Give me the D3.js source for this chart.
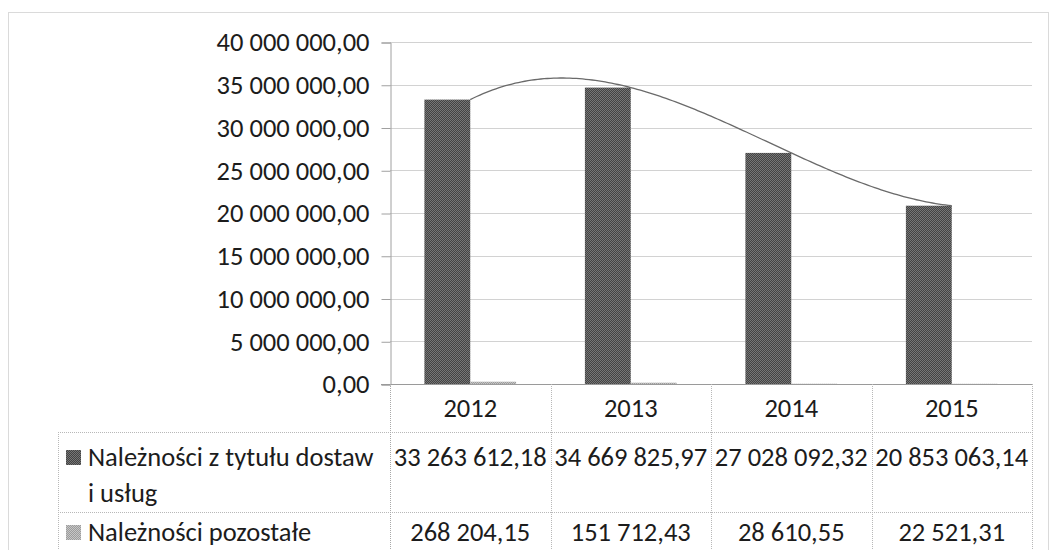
<!DOCTYPE html>
<html lang="pl">
<head>
<meta charset="utf-8">
<script src="https://cdn.jsdelivr.net/npm/d3@7"></script>
<style>
  html, body { margin: 0; padding: 0; background: #fff; }
  svg { display: block; font-family: Calibri, Carlito, Lato, "Open Sans", sans-serif; }
</style>
</head>
<body>
<svg id="chart" width="1052" height="550"></svg>
<script>
// Receivables by year (PLN)
const categories = ["2012", "2013", "2014", "2015"];
const tradeReceivables = [33263612.18, 34669825.97, 27028092.32, 20853063.14];
const otherReceivables = [268204.15, 151712.43, 28610.55, 22521.31];
const seriesNames = [["Należności z tytułu dostaw", "i usług"], ["Należności pozostałe"]];
const yTicks = [0, 5000000, 10000000, 15000000, 20000000, 25000000, 30000000, 35000000, 40000000];

const pl = d3.formatLocale({ decimal: ",", thousands: " ", grouping: [3], currency: ["", " zł"] });
const fmt = pl.format(",.2f");

const svg = d3.select("#chart");
const W = 1052, H = 550;
const plot = { left: 390, right: 1032, top: 42, bottom: 384 };
const table = { left: 58, headerBottom: 432, row1Bottom: 512 };
const fontSize = 26.5;
const textColor = "#1c1c1c";
const gridColor = "#d2d2d2";
const tableLine = "#b8b8b8";

// halftone-like fills for the two series
const defs = svg.append("defs");
function dither(id, a, b) {
  const p = defs.append("pattern").attr("id", id)
    .attr("width", 2).attr("height", 2).attr("patternUnits", "userSpaceOnUse");
  p.append("rect").attr("width", 2).attr("height", 2).attr("fill", a);
  p.append("rect").attr("width", 1).attr("height", 1).attr("fill", b);
  p.append("rect").attr("x", 1).attr("y", 1).attr("width", 1).attr("height", 1).attr("fill", b);
}
dither("fillTrade", "#434343", "#767676");
dither("fillOther", "#9c9c9c", "#c6c6c6");
const fills = ["url(#fillTrade)", "url(#fillOther)"];

// outer chart frame
svg.append("rect")
  .attr("x", 8.5).attr("y", 12.5).attr("width", 1040).attr("height", 600)
  .attr("fill", "none").attr("stroke", "#b4b4b4").attr("stroke-dasharray", "1,1");

const x = d3.scaleBand().domain(categories).range([plot.left, plot.right]).padding(0);
const y = d3.scaleLinear().domain([0, 40000000]).range([plot.bottom, plot.top]);
const bw = x.bandwidth();
const barW = bw / 3.5; // gap width 150%

// gridlines
svg.append("g").selectAll("line").data(yTicks.filter(d => d > 0)).join("line")
  .attr("x1", plot.left).attr("x2", plot.right)
  .attr("y1", d => Math.round(y(d)) + 0.5).attr("y2", d => Math.round(y(d)) + 0.5)
  .attr("stroke", gridColor).attr("stroke-width", 1);

// y axis
const yAxis = d3.axisLeft(y).tickValues(yTicks).tickSize(9).tickPadding(12).tickFormat(fmt);
const gy = svg.append("g").attr("transform", `translate(${plot.left + 0.5},0.5)`).call(yAxis);
gy.select(".domain").attr("stroke", "#a0a0a0");
gy.selectAll(".tick line").attr("stroke", "#a0a0a0");
gy.selectAll(".tick text")
  .attr("font-size", fontSize).attr("fill", textColor)
  .attr("font-family", "Calibri, Carlito, Lato, sans-serif");

// bars
const series = [tradeReceivables, otherReceivables];
series.forEach((vals, si) => {
  svg.append("g").selectAll("rect").data(vals).join("rect")
    .attr("x", (d, i) => x(categories[i]) + bw / 2 - barW + si * barW)
    .attr("y", d => y(d))
    .attr("width", barW)
    .attr("height", d => y(0) - y(d))
    .attr("fill", fills[si]);
});

// zero line
svg.append("line")
  .attr("x1", plot.left - 9).attr("x2", plot.right)
  .attr("y1", plot.bottom + 0.5).attr("y2", plot.bottom + 0.5)
  .attr("stroke", "#9a9a9a");

// polynomial (order 3) trendline of the trade receivables
function polyFit(xs, ys, order) {
  const n = order + 1;
  const A = Array.from({ length: n }, () => new Array(n + 1).fill(0));
  xs.forEach((xv, k) => {
    for (let r = 0; r < n; r++) {
      for (let c = 0; c < n; c++) A[r][c] += Math.pow(xv, r + c);
      A[r][n] += ys[k] * Math.pow(xv, r);
    }
  });
  for (let i = 0; i < n; i++) {
    let piv = i;
    for (let r = i + 1; r < n; r++) if (Math.abs(A[r][i]) > Math.abs(A[piv][i])) piv = r;
    [A[i], A[piv]] = [A[piv], A[i]];
    for (let r = 0; r < n; r++) {
      if (r === i) continue;
      const f = A[r][i] / A[i][i];
      for (let c = i; c <= n; c++) A[r][c] -= f * A[i][c];
    }
  }
  return A.map((row, i) => row[n] / row[i]);
}
const idx = categories.map((c, i) => i + 1);
const coef = polyFit(idx, tradeReceivables, 3);
const trend = t => coef.reduce((s, c, k) => s + c * Math.pow(t, k), 0);
const tSamples = d3.range(1, idx.length + 0.0001, 0.02);
const xCenter = t => x(categories[0]) + bw / 2 + (t - 1) * bw;
svg.append("path")
  .datum(tSamples)
  .attr("d", d3.line().x(t => xCenter(t)).y(t => y(trend(t))))
  .attr("fill", "none").attr("stroke", "#6a6a6a").attr("stroke-width", 1.3);

// data table
const tbl = svg.append("g").attr("stroke", tableLine).attr("stroke-dasharray", "1,1").attr("fill", "none");
[table.headerBottom, table.row1Bottom].forEach(yy => {
  tbl.append("line").attr("x1", table.left).attr("x2", plot.right)
    .attr("y1", yy + 0.5).attr("y2", yy + 0.5);
});
tbl.append("line").attr("x1", table.left + 0.5).attr("x2", table.left + 0.5)
  .attr("y1", table.headerBottom).attr("y2", H + 10);
const colEdges = categories.map(c => x(c)).concat([plot.right]);
colEdges.forEach((cx, i) => {
  tbl.append("line").attr("x1", Math.round(cx) + 0.5).attr("x2", Math.round(cx) + 0.5)
    .attr("y1", plot.bottom).attr("y2", H + 10)
    .attr("stroke", i === 0 ? "#a8a8a8" : tableLine)
    .attr("stroke-dasharray", i === 0 ? null : "1,1");
});

const txt = svg.append("g").attr("font-size", fontSize).attr("fill", textColor);
// year header
txt.selectAll("text.year").data(categories).join("text").attr("class", "year")
  .attr("x", c => x(c) + bw / 2).attr("y", 417).attr("text-anchor", "middle").text(c => c);
// value rows
const rowBaselines = [466, 541];
series.forEach((vals, si) => {
  txt.append("g").selectAll("text").data(vals).join("text")
    .attr("x", (d, i) => x(categories[i]) + bw / 2)
    .attr("y", rowBaselines[si]).attr("text-anchor", "middle").text(d => fmt(d));
});
// series labels with legend keys
const legendLineGap = 36;
seriesNames.forEach((lines, si) => {
  svg.append("rect")
    .attr("x", 66).attr("y", rowBaselines[si] - 16).attr("width", 15).attr("height", 15)
    .attr("fill", fills[si]);
  const t = txt.append("text").attr("x", 88).attr("y", rowBaselines[si]);
  lines.forEach((ln, li) => {
    t.append("tspan").attr("x", 88).attr("y", rowBaselines[si] + li * legendLineGap).text(ln);
  });
});
</script>
</body>
</html>
